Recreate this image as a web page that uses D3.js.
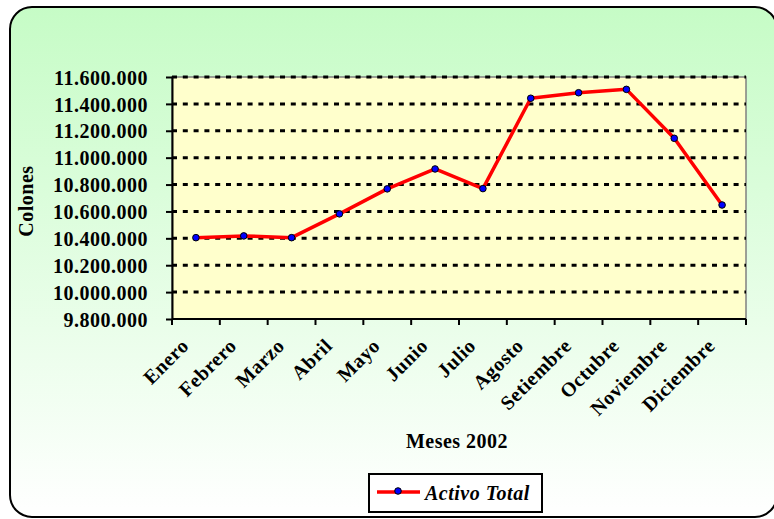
<!DOCTYPE html>
<html>
<head>
<meta charset="utf-8">
<script src="https://cdn.jsdelivr.net/npm/d3@7"></script>
<style>
  body { margin: 0; background: #fff; }
  text { font-family: "Liberation Serif", "Times New Roman", serif; font-weight: bold; fill: #000; letter-spacing: 0.5px; }
</style>
</head>
<body>
<script>
var months = ["Enero", "Febrero", "Marzo", "Abril", "Mayo", "Junio", "Julio",
              "Agosto", "Setiembre", "Octubre", "Noviembre", "Diciembre"];
var activoTotal = [10405000, 10418000, 10405000, 10582000, 10768000, 10916000,
                   10770000, 11442000, 11483000, 11508000, 11144000, 10648000];
var yTicks = [9800000, 10000000, 10200000, 10400000, 10600000, 10800000,
              11000000, 11200000, 11400000, 11600000];
var seriesName = "Activo Total";
var xTitle = "Meses 2002";
var yTitle = "Colones";

var width = 774, height = 519;
var plot = {left: 172, top: 77, right: 746, bottom: 319};

var svg = d3.select("body").append("svg")
   .attr("width", width)
   .attr("height", height);

var defs = svg.append("defs");
var grad = defs.append("linearGradient")
   .attr("id", "bg")
   .attr("x1", 0).attr("y1", 0).attr("x2", 0).attr("y2", 1);
grad.append("stop").attr("offset", "0%").attr("stop-color", "#c6fcc6");
grad.append("stop").attr("offset", "100%").attr("stop-color", "#ffffff");

// outer chart area
svg.append("rect")
   .attr("x", 10).attr("y", 7)
   .attr("width", 767).attr("height", 510)
   .attr("rx", 22).attr("ry", 22)
   .style("fill", "url(#bg)")
   .style("stroke", "#000")
   .style("stroke-width", 2);

var x = d3.scaleBand()
   .domain(months)
   .range([plot.left, plot.right]);

var y = d3.scaleLinear()
   .domain([9800000, 11600000])
   .range([plot.bottom, plot.top]);

// plot area
svg.append("rect")
   .attr("x", plot.left).attr("y", plot.top)
   .attr("width", plot.right - plot.left)
   .attr("height", plot.bottom - plot.top)
   .style("fill", "#ffffcc")
   .style("stroke", "#808080")
   .style("stroke-width", 1.5);

// gridlines
svg.append("g")
   .selectAll("line")
   .data(yTicks.filter(function(d) { return d > 9800000; }))
   .enter().append("line")
      .attr("x1", plot.left).attr("x2", plot.right)
      .attr("y1", function(d) { return y(d); })
      .attr("y2", function(d) { return y(d); })
      .style("stroke", "#000")
      .style("stroke-width", 3)
      .style("stroke-dasharray", "5,5.8");

var fmt = function(d) { return d3.format(",")(d).replace(/,/g, "."); };

var yAxis = d3.axisLeft(y)
   .tickValues(yTicks)
   .tickFormat(fmt)
   .tickSizeInner(6)
   .tickSizeOuter(0)
   .tickPadding(18);

var gy = svg.append("g")
   .attr("transform", "translate(" + plot.left + ",0)")
   .call(yAxis);
gy.selectAll("line, path").style("stroke", "#000").style("stroke-width", 2);
gy.selectAll("text")
   .style("font-size", "20px")
   .style("font-family", "Liberation Serif")
   .style("font-weight", "bold")
   .attr("dy", "0.36em");

// x axis: ticks on band edges
var gx = svg.append("g");
gx.append("line")
   .attr("x1", plot.left).attr("x2", plot.right)
   .attr("y1", plot.bottom).attr("y2", plot.bottom)
   .style("stroke", "#000").style("stroke-width", 2);
gx.selectAll(".tk")
   .data(months.concat(["_end"]))
   .enter().append("line")
      .attr("class", "tk")
      .attr("x1", function(d, i) { return plot.left + i * x.step(); })
      .attr("x2", function(d, i) { return plot.left + i * x.step(); })
      .attr("y1", plot.bottom).attr("y2", plot.bottom + 6)
      .style("stroke", "#000").style("stroke-width", 2);
gx.selectAll(".lbl")
   .data(months)
   .enter().append("text")
      .attr("class", "lbl")
      .attr("transform", function(d) {
         return "translate(" + (x(d) + x.bandwidth() / 2 - 6) + "," + 347 + ") rotate(-45)";
      })
      .attr("text-anchor", "end")
      .style("font-size", "20px")
      .text(function(d) { return d; });

// axis titles
svg.append("text")
   .attr("x", 457).attr("y", 448)
   .attr("text-anchor", "middle")
   .style("font-size", "20px")
   .text(xTitle);

svg.append("text")
   .attr("transform", "translate(33,201) rotate(-90)")
   .attr("text-anchor", "middle")
   .style("font-size", "20px")
   .text(yTitle);

// series line
var line = d3.line()
   .x(function(d, i) { return x(months[i]) + x.bandwidth() / 2; })
   .y(function(d) { return y(d); });

svg.append("path")
   .datum(activoTotal)
   .attr("d", line)
   .style("fill", "none")
   .style("stroke", "#ff0000")
   .style("stroke-width", 3.5)
   .style("stroke-linejoin", "round");

svg.append("g")
   .selectAll("circle")
   .data(activoTotal)
   .enter().append("circle")
      .attr("cx", function(d, i) { return x(months[i]) + x.bandwidth() / 2; })
      .attr("cy", function(d) { return y(d); })
      .attr("r", 3.3)
      .style("fill", "#0000ff")
      .style("stroke", "#000")
      .style("stroke-width", 1);

// legend
var lg = svg.append("g");
lg.append("rect")
   .attr("x", 369).attr("y", 474)
   .attr("width", 173).attr("height", 38)
   .style("fill", "#fff")
   .style("stroke", "#000")
   .style("stroke-width", 2);
lg.append("line")
   .attr("x1", 377).attr("x2", 420)
   .attr("y1", 492).attr("y2", 492)
   .style("stroke", "#ff0000").style("stroke-width", 3.5);
lg.append("circle")
   .attr("cx", 398).attr("cy", 491).attr("r", 3.3)
   .style("fill", "#0000ff").style("stroke", "#000").style("stroke-width", 1);
lg.append("text")
   .attr("x", 425).attr("y", 500)
   .style("font-size", "20px")
   .style("font-style", "italic")
   .text(seriesName);
</script>
</body>
</html>
